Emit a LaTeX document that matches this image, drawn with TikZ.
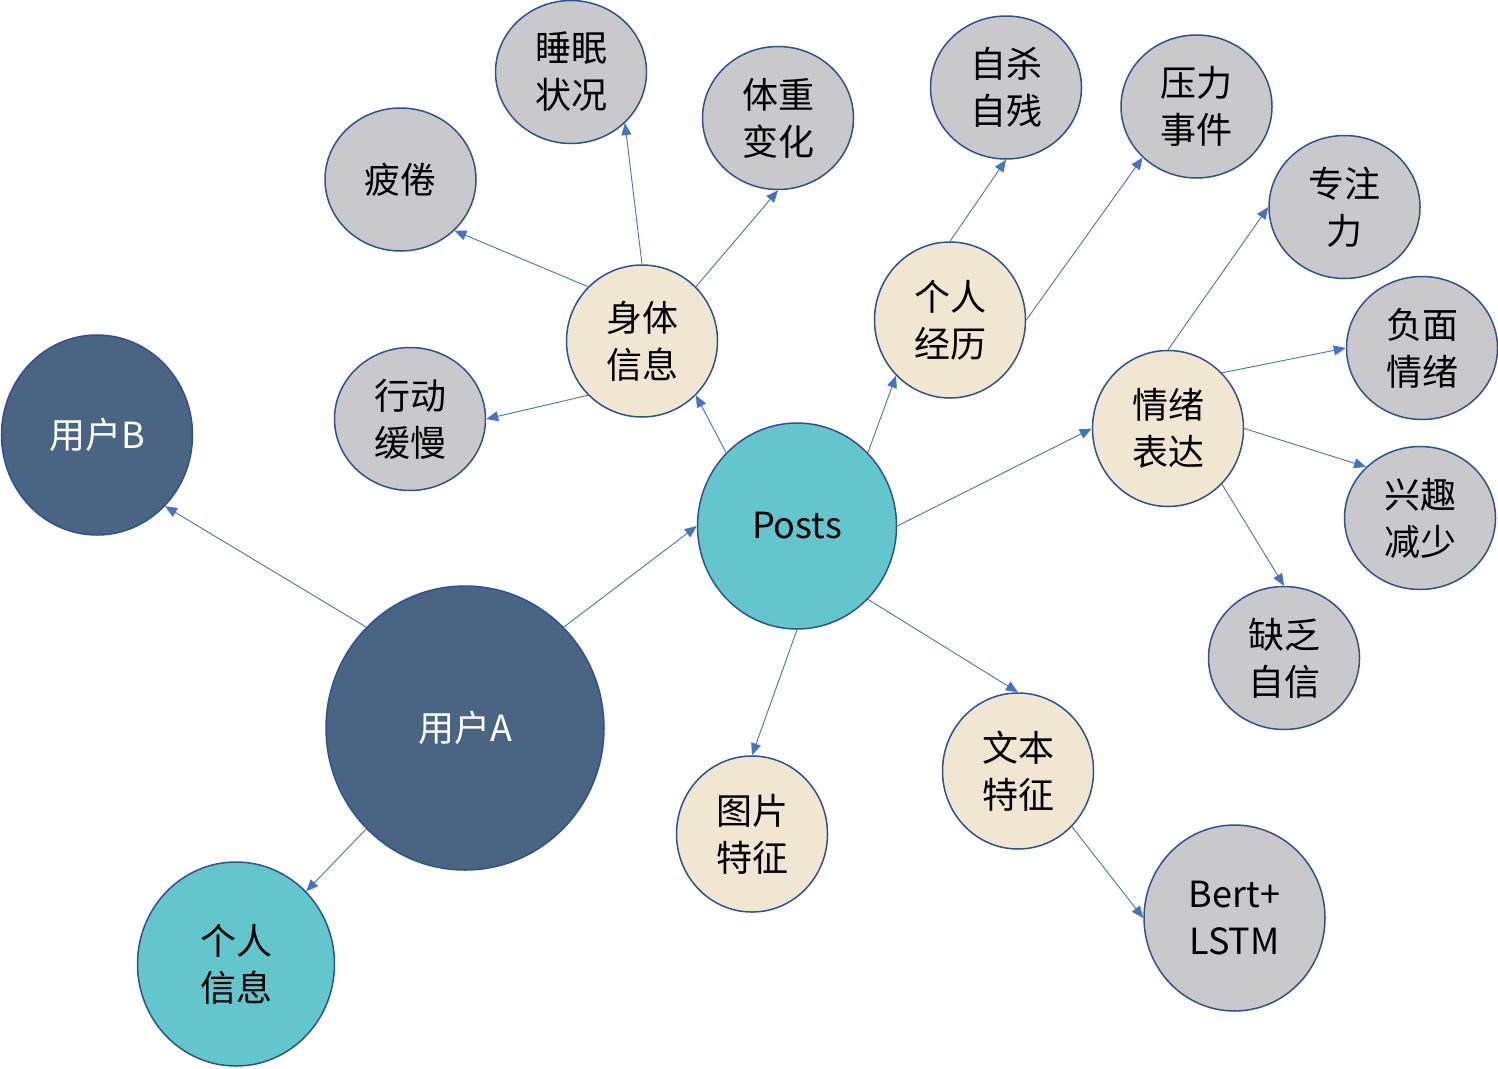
\documentclass[tikz,border=0pt]{standalone}
\usepackage{fontspec}
\newfontfamily\cjk{Noto Sans CJK SC}
\usetikzlibrary{arrows.meta,shapes.geometric}
\definecolor{darkb}{HTML}{4A6484}
\definecolor{bordc}{HTML}{2F528F}
\definecolor{beige}{HTML}{F0E6D2}
\definecolor{grayc}{HTML}{C9C8CA}
\definecolor{tealc}{HTML}{63C6CD}
\definecolor{arrc}{HTML}{4472C4}
\tikzset{
  base/.style={ellipse, draw=bordc, line width=1.5pt, inner sep=0pt, align=center,
    font=\cjk\fontsize{36}{47}\selectfont},
  darknode/.style={base, fill=darkb, text=white},
  tealnode/.style={base, fill=tealc, text=black},
  beigenode/.style={base, fill=beige, text=black, minimum width=151pt, minimum height=156pt},
  graynode/.style={base, fill=grayc, text=black, minimum width=151pt, minimum height=143pt},
  conn/.style={draw=arrc, line width=0.9pt, -{Triangle[length=12pt,width=10pt]}},
}
\begin{document}
\begin{tikzpicture}[x=1pt,y=-1pt]
\useasboundingbox (0,0) rectangle (1498,1068);
% nodes
\node[darknode, minimum width=191pt, minimum height=200pt] (ub) at (97,435) {用户B};
\node[darknode, minimum width=278pt, minimum height=284pt] (ua) at (465,728) {用户A};
\node[tealnode, minimum width=197pt, minimum height=204pt] (gr) at (236,964) {个人\\信息};
\node[tealnode, minimum width=199pt, minimum height=206pt] (posts) at (797,526) {Posts};
\node[beigenode, minimum height=152pt] (st) at (642,341) {身体\\信息};
\node[beigenode] (jl) at (950,320) {个人\\经历};
\node[beigenode] (qx) at (1168,428.5) {情绪\\表达};
\node[beigenode] (wb) at (1018,771) {文本\\特征};
\node[beigenode] (tp) at (752,834) {图片\\特征};
\node[graynode] (pj) at (400.5,179.5) {疲倦};
\node[graynode] (sm) at (571,72) {睡眠\\状况};
\node[graynode] (tz) at (778,118) {体重\\变化};
\node[graynode] (xd) at (410,419) {行动\\缓慢};
\node[graynode] (zs) at (1006,87.5) {自杀\\自残};
\node[graynode] (yl) at (1196.5,106.5) {压力\\事件};
\node[graynode] (zz) at (1344.5,207) {专注\\力};
\node[graynode] (fm) at (1422,348) {负面\\情绪};
\node[graynode] (xq) at (1420,518) {兴趣\\减少};
\node[graynode] (qf) at (1284,658) {缺乏\\自信};
\node[graynode, minimum width=181pt, minimum height=186pt] (bl) at (1234.5,918) {Bert+\\LSTM};
% connectors
\draw[conn] (ua.north west) -- (ub.south east);
\draw[conn] (ua.north east) -- (posts.west);
\draw[conn] (ua.south west) -- (gr.north east);
\draw[conn] (posts.north west) -- (st.south east);
\draw[conn] (posts.north east) -- (jl.south west);
\draw[conn] (posts.east) -- (qx.west);
\draw[conn] (posts.south east) -- (wb.north);
\draw[conn] (posts.south) -- (tp.north);
\draw[conn] (st.north west) -- (pj.south east);
\draw[conn] (st.north) -- (sm.south east);
\draw[conn] (st.north east) -- (tz.south);
\draw[conn] (st.south west) -- (xd.east);
\draw[conn] (jl.north) -- (zs.south);
\draw[conn] (jl.east) -- (yl.south west);
\draw[conn] (qx.north) -- (zz.west);
\draw[conn] (qx.north east) -- (fm.west);
\draw[conn] (qx.east) -- (xq.north west);
\draw[conn] (qx.south east) -- (qf.north);
\draw[conn] (wb.south east) -- (bl.west);
\end{tikzpicture}
\end{document}
